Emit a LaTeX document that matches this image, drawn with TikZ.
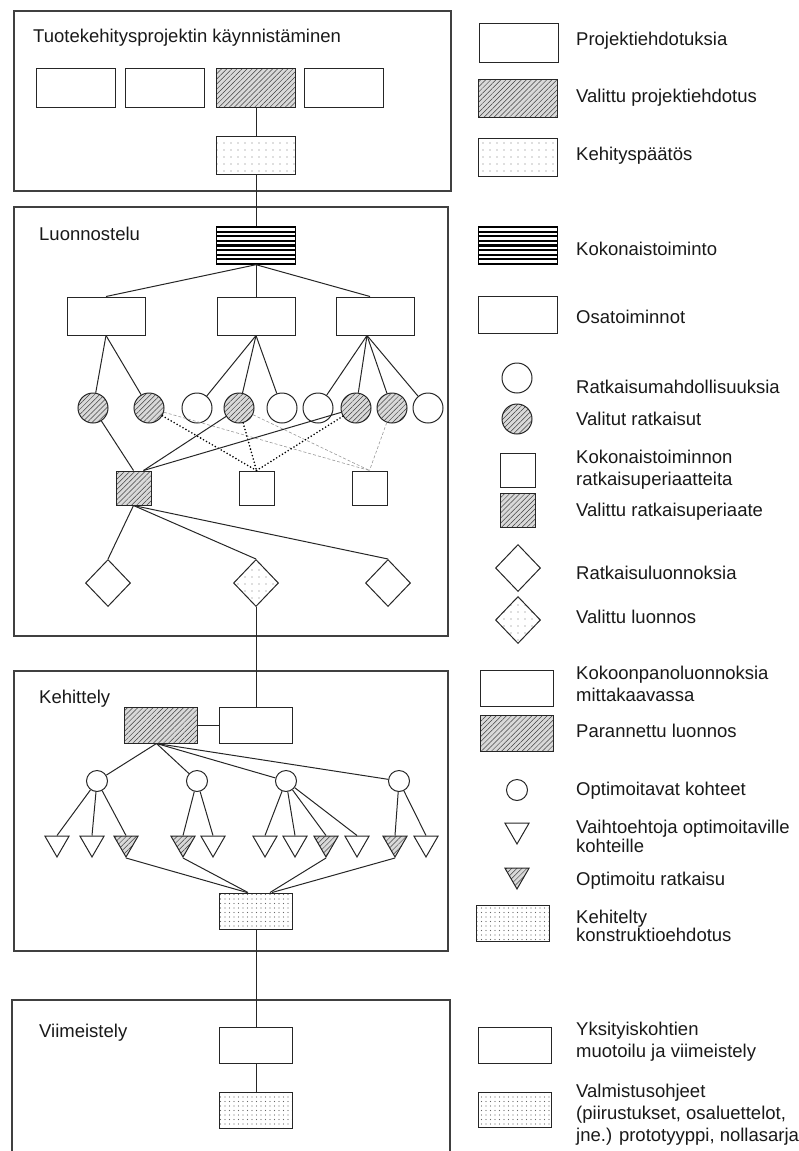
\documentclass[tikz,border=0pt]{standalone}
\usepackage{fontspec}
\setmainfont{Liberation Sans}
\usetikzlibrary{shapes.geometric,patterns.meta,calc}
\tikzset{
  every node/.style={font=\fontsize{18.5}{22}\selectfont, text=black!90},
  sec/.style={draw=black!75, line width=1.2pt},
  title/.style={anchor=base west, inner sep=0pt},
  lab/.style={anchor=base west, inner sep=0pt},
  shp/.style={draw=black!85, line width=1pt, inner sep=0pt},
  box/.style={shp, rectangle, minimum width=79pt, minimum height=39pt},
  boxk/.style={shp, rectangle, minimum width=73pt, minimum height=36pt},
  sq/.style={shp, rectangle, minimum width=35pt, minimum height=34pt},
  circL/.style={shp, circle, minimum size=30pt},
  circS/.style={shp, circle, minimum size=21pt},
  dia/.style={shp, diamond, minimum width=45pt, minimum height=47pt},
  tri/.style={shp, regular polygon, regular polygon sides=3, shape border rotate=180, minimum size=28pt},
  hatch/.style={preaction={fill=gray!30}, pattern={Lines[angle=45,distance=3.6pt,line width=0.5pt]}, pattern color=black!75},
  dotsA/.style={pattern={Dots[distance=7pt,radius=0.6pt]}, pattern color=black!55},
  dotsB/.style={pattern={Dots[distance=4.5pt,radius=0.55pt]}, pattern color=black!60},
  stripes/.style={line width=1.4pt, draw=black, path picture={
      \foreach \k in {1,...,7}{
        \draw[line width=2.2pt, black]
          ($(path picture bounding box.north west)!{\k/8}!(path picture bounding box.south west)$) --
          ($(path picture bounding box.north east)!{\k/8}!(path picture bounding box.south east)$);
      }}},
  conn/.style={draw=black!85, line width=1pt},
  dotc/.style={draw=black, line width=1.8pt, dash pattern=on 0pt off 3.4pt, line cap=round},
  grayd/.style={draw=gray!80, line width=0.6pt, dash pattern=on 3pt off 2pt},
}
\begin{document}
\begin{tikzpicture}[x=1pt, y=-1pt]
\useasboundingbox (0,0) rectangle (799,1151);

% ---------- Section 1 ----------
\draw[sec] (14,11) rectangle (451,191);
\node[title] (t1) at (33,42) {Tuotekehitysprojektin käynnistäminen};
\node[box] (p1) at (75.5,87.5) {};
\node[box] (p2) at (164.5,87.5) {};
\node[box,hatch] (p3) at (256,87.5) {};
\node[box] (p4) at (343.5,87.5) {};
\node[box,dotsA,minimum height=38pt] (kp) at (256,155) {};
\draw[conn] (p3) -- (kp);

% ---------- Section 2 ----------
\draw[sec] (14,207) rectangle (448,636);
\node[title] (t2) at (39,240) {Luonnostelu};
\node[box,stripes,minimum height=37pt] (kt) at (256,245.5) {};
\draw[conn] (kp) -- (kt);

\node[box,minimum height=38pt,minimum width=78pt] (o1) at (106,316) {};
\node[box,minimum height=38pt,minimum width=78pt] (o2) at (256,316) {};
\node[box,minimum height=38pt,minimum width=78pt] (o3) at (375,316) {};
\draw[conn] (kt.south) -- (o1.north);
\draw[conn] (kt.south) -- (o2.north);
\draw[conn] (kt.south) -- ($(o3.north)+(-5,0)$);

\node[circL,hatch] (c1) at (93,408) {};
\node[circL,hatch] (c2) at (149,408) {};
\node[circL] (c3) at (197,408) {};
\node[circL,hatch] (c4) at (239,408) {};
\node[circL] (c5) at (282,408) {};
\node[circL] (c6) at (318,408) {};
\node[circL,hatch] (c7) at (356,408) {};
\node[circL,hatch] (c8) at (392,408) {};
\node[circL] (c9) at (428,408) {};

\draw[conn] (o1.south) -- (c1);
\draw[conn] (o1.south) -- (c2);
\draw[conn] (o2.south) -- (c3);
\draw[conn] (o2.south) -- (c4);
\draw[conn] (o2.south) -- (c5);
\coordinate (o3s) at ($(o3.south)+(-8,0)$);
\draw[conn] (o3s) -- (c6);
\draw[conn] (o3s) -- (c7);
\draw[conn] (o3s) -- (c8);
\draw[conn] (o3s) -- (c9);

\node[sq,hatch] (s1) at (133.5,488) {};
\node[sq] (s2) at (256.5,488) {};
\node[sq] (s3) at (369.5,488) {};
\coordinate (s1r) at ($(s1.north)+(10,0)$);

% thin gray dashed
\draw[grayd] (c2) -- (s3.north);
\draw[grayd] (c4) -- (s3.north);
\draw[grayd] (c8) -- (s3.north);
% dotted
\draw[dotc] (c2) -- (s2.north);
\draw[dotc] (c4) -- (s2.north);
\draw[dotc] (c7) -- (s2.north);
% solid
\draw[conn] (c1) -- (s1.north);
\draw[conn] (c4) -- (s1r);
\draw[conn] (c7) -- (s1r);

\node[dia] (d1) at (108,583) {};
\node[dia,dotsA] (d2) at (256,583) {};
\node[dia] (d3) at (388,583) {};
\draw[conn] (s1.south) -- (d1.north);
\draw[conn] (s1.south) -- (d2.north);
\draw[conn] (s1.south) -- (d3.north);

% ---------- Section 3 ----------
\draw[sec] (14,671) rectangle (448,951);
\node[title] (t3) at (39,703) {Kehittely};
\node[boxk,hatch] (pr) at (160.5,725) {};
\node[boxk] (k1) at (256,725) {};
\draw[conn] (d2) -- (k1);
\draw[conn] (pr) -- (k1);

\node[circS] (q1) at (97,781) {};
\node[circS] (q2) at (197,781) {};
\node[circS] (q3) at (286,781) {};
\node[circS] (q4) at (399,781) {};
\coordinate (prs) at ($(pr.south)+(-4,0)$);
\draw[conn] (prs) -- (q1);
\draw[conn] (prs) -- (q2);
\draw[conn] (prs) -- (q3);
\draw[conn] (prs) -- (q4);

\node[tri] (tr1) at (57,843) {};
\node[tri] (tr2) at (92,843) {};
\node[tri,hatch] (tr3) at (126,843) {};
\node[tri,hatch] (tr4) at (183,843) {};
\node[tri] (tr5) at (213,843) {};
\node[tri] (tr6) at (265,843) {};
\node[tri] (tr7) at (295,843) {};
\node[tri,hatch] (tr8) at (326,843) {};
\node[tri] (tr9) at (357,843) {};
\node[tri,hatch] (tr10) at (395,843) {};
\node[tri] (tr11) at (426,843) {};

\draw[conn] (q1) -- (tr1.north);
\draw[conn] (q1) -- (tr2.north);
\draw[conn] (q1) -- (tr3.north);
\draw[conn] (q2) -- (tr4.north);
\draw[conn] (q2) -- (tr5.north);
\draw[conn] (q3) -- (tr6.north);
\draw[conn] (q3) -- (tr7.north);
\draw[conn] (q3) -- (tr8.north);
\draw[conn] (q3) -- (tr9.north);
\draw[conn] (q4) -- (tr10.north);
\draw[conn] (q4) -- (tr11.north);

\node[boxk,dotsB] (kd) at (256,911) {};
\draw[conn] (tr3.south) -- ($(kd.north)+(-9,0)$);
\draw[conn] (tr4.south) -- ($(kd.north)+(-8,0)$);
\draw[conn] (tr8.south) -- ($(kd.north)+(14,0)$);
\draw[conn] (tr10.south) -- ($(kd.north)+(16,0)$);

% ---------- Section 4 ----------
\draw[sec] (12,1160) -- (12,1000) -- (450,1000) -- (450,1160);
\node[title] (t4) at (39,1037) {Viimeistely};
\node[boxk] (v1) at (256,1045) {};
\node[boxk,dotsB] (v2) at (256,1110) {};
\draw[conn] (kd) -- (v1);
\draw[conn] (v1) -- (v2);

% ---------- Legend ----------
\node[box] (l1) at (518.5,42.5) {};
\node[lab] (lt1) at (576,45) {Projektiehdotuksia};
\node[box,hatch,minimum height=38pt] (l2) at (518,98) {};
\node[lab] (lt2) at (576,102) {Valittu projektiehdotus};
\node[box,dotsA,minimum height=38pt] (l3) at (518,157.5) {};
\node[lab] (lt3) at (576,160) {Kehityspäätös};
\node[box,stripes,minimum height=37pt] (l4) at (518,245.5) {};
\node[lab] (lt4) at (576,255) {Kokonaistoiminto};
\node[box,minimum height=37pt] (l5) at (518,314.5) {};
\node[lab] (lt5) at (576,323) {Osatoiminnot};
\node[circL] (l6) at (517,378) {};
\node[lab] (lt6) at (576,393) {Ratkaisumahdollisuuksia};
\node[circL,hatch] (l7) at (517,419) {};
\node[lab] (lt7) at (576,425) {Valitut ratkaisut};
\node[sq] (l8) at (518,470) {};
\node[lab] (lt8) at (576,463) {\begin{tabular}[t]{@{}l@{}}Kokonaistoiminnon\\ratkaisuperiaatteita\end{tabular}};
\node[sq,hatch] (l9) at (518,510.5) {};
\node[lab] (lt9) at (576,516) {Valittu ratkaisuperiaate};
\node[dia] (l10) at (518,568) {};
\node[lab] (lt10) at (576,579) {Ratkaisuluonnoksia};
\node[dia,dotsA] (l11) at (518,620) {};
\node[lab] (lt11) at (576,623) {Valittu luonnos};
\node[boxk] (l12) at (517,688) {};
\node[lab] (lt12) at (576,679) {\begin{tabular}[t]{@{}l@{}}Kokoonpanoluonnoksia\\mittakaavassa\end{tabular}};
\node[boxk,hatch] (l13) at (517,733) {};
\node[lab] (lt13) at (576,737) {Parannettu luonnos};
\node[circS] (l14) at (517,790) {};
\node[lab] (lt14) at (576,795) {Optimoitavat kohteet};
\node[tri] (l15) at (517,830) {};
\node[lab] (lt15) at (576,833) {\begin{tabular}[t]{@{}l@{}}Vaihtoehtoja optimoitaville\\[-3pt]kohteille\end{tabular}};
\node[tri,hatch] (l16) at (517,875) {};
\node[lab] (lt16) at (576,885) {Optimoitu ratkaisu};
\node[boxk,dotsB] (l17) at (513,923) {};
\node[lab] (lt17) at (576,923) {\begin{tabular}[t]{@{}l@{}}Kehitelty\\[-4pt]konstruktioehdotus\end{tabular}};
\node[boxk] (l18) at (515,1045) {};
\node[lab] (lt18) at (576,1035) {\begin{tabular}[t]{@{}l@{}}Yksityiskohtien\\muotoilu ja viimeistely\end{tabular}};
\node[boxk,dotsB,minimum height=35pt] (l19) at (515,1109.5) {};
\node[lab] (lt19) at (576,1097) {\begin{tabular}[t]{@{}l@{}}Valmistusohjeet\\(piirustukset, osaluettelot,\\jne.) prototyyppi, nollasarja\end{tabular}};
\end{tikzpicture}
\end{document}
